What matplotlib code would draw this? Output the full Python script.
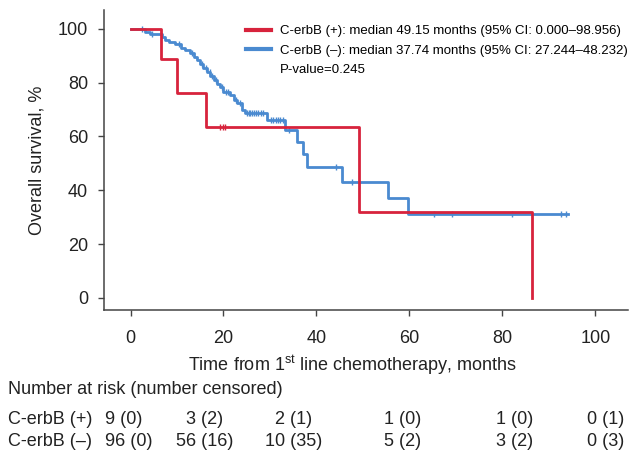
import numpy as np
import matplotlib
matplotlib.use("Agg")
import matplotlib.pyplot as plt
from matplotlib.lines import Line2D

plt.rcParams['font.family'] = ['Liberation Sans', 'DejaVu Sans']
plt.rcParams['mathtext.fontset'] = 'custom'
plt.rcParams['mathtext.rm'] = 'Liberation Sans'

# Kaplan-Meier steps (months, survival %)
pos_times = [0, 6.6, 10.1, 16.3, 49.15, 86.3]
pos_surv = [100, 88.9, 76.2, 63.5, 31.75, 0]
pos_censor = [19.3, 19.8, 20.4]

neg_times = [0, 3.2, 4.2, 6.8, 7.5, 8.2, 9.6, 10.8, 11.8, 12.9, 13.6, 14.2,
             15.0, 15.7, 16.5, 17.2, 17.9, 18.6, 19.2, 20.0, 21.5, 22.2, 23.0,
             24.0, 24.7, 29.4, 33.3, 35.9, 37.2, 38.0, 45.4, 55.3, 59.6]
neg_surv = [100, 99.0, 98.0, 97.0, 96.0, 95.0, 94.4, 93.0, 92.0, 91.0, 89.5,
            88.5, 86.8, 85.5, 84.0, 82.5, 80.8, 79.5, 78.4, 76.6, 75.5, 73.6,
            72.5, 70.0, 68.8, 66.2, 62.5, 58.0, 53.5, 48.7, 43.1, 37.2, 31.2]
neg_end = 94.0
neg_censor = [2.5, 4.6, 10.5, 13.2, 15.3, 16.2, 17.0, 17.6, 18.3, 19.6, 20.6,
              21.0, 22.6, 23.5, 25.0, 25.4, 25.8, 26.2, 26.6, 27.0, 27.5, 28.0,
              28.6, 30.2, 30.7, 31.2, 31.7, 32.2, 32.7, 34.0, 44.3, 47.6, 65.2,
              69.1, 82.0, 92.6, 93.7]

legend_labels = ["C-erbB (+): median 49.15 months (95% CI: 0.000\u201398.956)",
                 "C-erbB (\u2013): median 37.74 months (95% CI: 27.244\u201348.232)",
                 "P-value=0.245"]

risk_groups = ["C-erbB (+)", "C-erbB (\u2013)"]
risk_pos = ["9 (0)", "3 (2)", "2 (1)", "1 (0)", "1 (0)", "0 (1)"]
risk_neg = ["96 (0)", "56 (16)", "10 (35)", "5 (2)", "3 (2)", "0 (3)"]

red = '#d7233c'
blue = '#4a8ad0'
spine_col = '#444444'
txt_col = '#222222'


def surv_at(times, surv, t):
    idx = np.searchsorted(times, t, side='right') - 1
    return np.array(surv)[idx]


W, H = 630, 459
fig = plt.figure(figsize=(W / 100, H / 100), dpi=100)
ax = fig.add_axes([104 / W, 1 - 310 / H, 524 / W, 300 / H])

# curves
ax.step(neg_times + [neg_end], neg_surv + [neg_surv[-1]], where='post',
        color=blue, lw=2, zorder=2)
ax.plot(neg_censor, surv_at(neg_times, neg_surv, neg_censor), ls='none',
        marker='|', ms=5, mew=1, color=blue, zorder=2)
ax.step(pos_times, pos_surv, where='post', color=red, lw=2, zorder=3)
ax.plot(pos_censor, surv_at(pos_times, pos_surv, pos_censor), ls='none',
        marker='|', ms=5, mew=1, color=red, zorder=3)

ax.set_xlim(-5.7, 107)
ax.set_ylim(-4.5, 107)
ax.set_xticks([0, 20, 40, 60, 80, 100])
ax.set_yticks([0, 20, 40, 60, 80, 100])
for s in ['top', 'right']:
    ax.spines[s].set_visible(False)
for s in ['left', 'bottom']:
    ax.spines[s].set_color(spine_col)
    ax.spines[s].set_linewidth(1.1)
ax.tick_params(axis='both', labelsize=13, length=4.5, width=1,
               color=spine_col, labelcolor=txt_col)
ax.tick_params(axis='x', pad=10)
ax.tick_params(axis='y', pad=7)

ax.set_ylabel("Overall survival, %", fontsize=13, color=txt_col)
ax.yaxis.set_label_coords(-0.112, 0.5)
ax.set_xlabel(r"Time from 1$^{\mathrm{st}}$ line chemotherapy, months",
              fontsize=13, color=txt_col)
ax.xaxis.set_label_coords(0.474, -0.145)

handles = [Line2D([], [], color=red, lw=3),
           Line2D([], [], color=blue, lw=3),
           Line2D([], [], color='none', lw=3)]
ax.legend(handles, legend_labels, loc='upper left',
          bbox_to_anchor=((246 - 104) / 524, (310 - 25) / 300),
          frameon=False, fontsize=9.5, handlelength=1.9, handletextpad=0.7,
          labelspacing=0.55, borderaxespad=0, borderpad=0)

# number at risk table
fig.text(8 / W, 1 - 389 / H, "Number at risk (number censored)", fontsize=13,
         va='center', ha='left', color=txt_col)
col_x = [105, 205, 294, 403, 515, 606]
for row_y, label, vals in [(419, risk_groups[0], risk_pos),
                           (441, risk_groups[1], risk_neg)]:
    fig.text(8 / W, 1 - row_y / H, label, fontsize=13, va='center', ha='left',
             color=txt_col)
    for i, (x, v) in enumerate(zip(col_x, vals)):
        fig.text(x / W, 1 - row_y / H, v, fontsize=13, va='center',
                 ha='left' if i == 0 else 'center', color=txt_col)

fig.savefig("out.png", dpi=100)
